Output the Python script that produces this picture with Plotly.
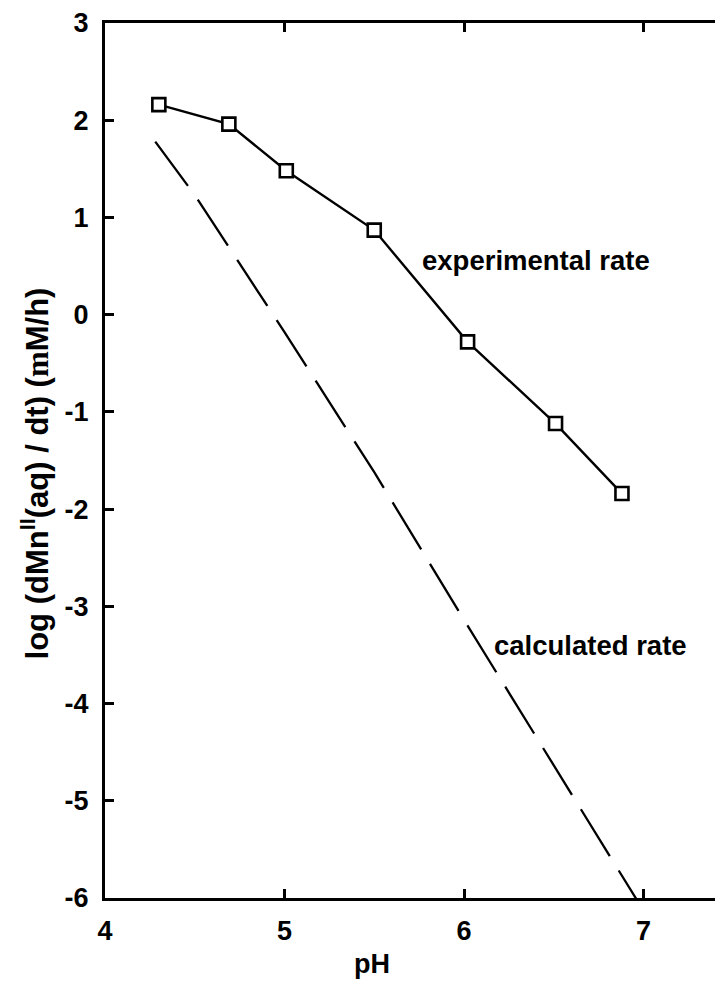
import plotly.graph_objects as go

# experimental rate (squares)
exp_ph = [4.30, 4.69, 5.01, 5.50, 6.02, 6.51, 6.88]
exp_rate = [2.16, 1.96, 1.48, 0.87, -0.28, -1.12, -1.84]

# calculated rate (dashed)
calc_ph = [4.28, 4.5, 5.0, 5.5, 6.0, 6.5, 7.0]
calc_rate = [1.78, 1.23, -0.18, -1.62, -3.14, -4.64, -6.13]

x_ticks = [4, 5, 6, 7]
y_ticks = [-6, -5, -4, -3, -2, -1, 0, 1, 2, 3]

FONT = "Liberation Sans"
FS = 27

OFF = 8  # page body margin
W, H = 723 - OFF, 999 - OFF
L, T = 105 - OFF, 20 - OFF
B = H - (898 - OFF)
pw = W - L
ph = H - T - B
xmax = 4 + pw / 179.5

fig = go.Figure()
fig.add_trace(go.Scatter(
    x=calc_ph, y=calc_rate, mode="lines",
    line=dict(color="black", width=2.3, dash="55px,17px"),
    showlegend=False, hoverinfo="skip"))
fig.add_trace(go.Scatter(
    x=exp_ph, y=exp_rate, mode="lines+markers",
    line=dict(color="black", width=2.4),
    marker=dict(symbol="square", size=13, color="white",
                line=dict(color="black", width=2.6)),
    showlegend=False))

fig.update_layout(
    width=W, height=H,
    margin=dict(l=L, r=0, t=T, b=B, pad=0),
    paper_bgcolor="white", plot_bgcolor="white",
    font=dict(family=FONT, size=FS, color="black", weight="bold"),
    xaxis=dict(range=[4, xmax], tickvals=x_ticks, ticktext=[str(v) for v in x_ticks],
               ticks="inside", ticklen=9, tickwidth=2.5, tickcolor="black",
               showline=True, linewidth=3, linecolor="black", mirror="allticks",
               showgrid=False, zeroline=False,
               tickfont=dict(family=FONT, size=FS, weight="bold"),
               ticklabelstandoff=7, ticklabeloverflow="allow"),
    yaxis=dict(range=[-6, 3], tickvals=y_ticks, ticktext=[str(v) for v in y_ticks],
               ticks="inside", ticklen=9, tickwidth=2.5, tickcolor="black",
               showline=True, linewidth=3, linecolor="black", mirror=False,
               showgrid=False, zeroline=False,
               tickfont=dict(family=FONT, size=FS, weight="bold"),
               ticklabelstandoff=8, ticklabeloverflow="allow"),
)


def py(pix):
    return (T + ph - (pix - OFF)) / ph


def px(pix):
    return ((pix - OFF) - L) / pw


def dx(pix):
    return 4 + ((pix - OFF) - L) / 179.5


def dy(pix):
    return 3 - ((pix - OFF) - T) / (ph / 9)


fig.add_annotation(text="pH", xref="paper", yref="paper",
                   x=px(372), y=py(964), xanchor="center", yanchor="middle",
                   showarrow=False, font=dict(family=FONT, size=FS, weight="bold"))
fig.add_annotation(text="log (dMn<sup>II</sup>(aq) / dt) (<span style=\"font-family:Liberation Serif\">m</span>M/h)",
                   xref="paper", yref="paper",
                   x=px(35), y=py(472), xanchor="center", yanchor="middle",
                   textangle=-90, showarrow=False,
                   font=dict(family=FONT, size=31, weight="bold"))
fig.add_annotation(text="experimental rate", xref="x", yref="y",
                   x=dx(420), y=dy(258),
                   xanchor="left", yanchor="middle", showarrow=False,
                   font=dict(family=FONT, size=27.5, weight="bold"))
fig.add_annotation(text="calculated rate", xref="x", yref="y",
                   x=dx(492), y=dy(645),
                   xanchor="left", yanchor="middle", showarrow=False,
                   font=dict(family=FONT, size=27.5, weight="bold"))

fig.write_html("out.html")
